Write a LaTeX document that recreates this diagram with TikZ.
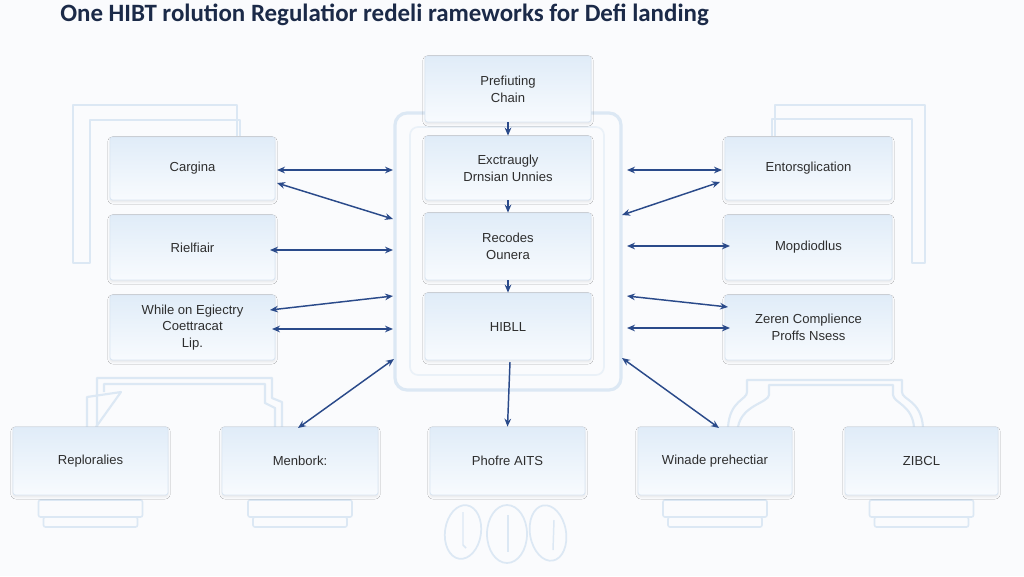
\documentclass[tikz,border=0pt]{standalone}
\usepackage{fontspec}
\setmainfont{Liberation Sans}
\newfontfamily\titlefont{Carlito}
\usetikzlibrary{arrows.meta,shadows.blur}
\definecolor{navy}{HTML}{2A4A8A}
\definecolor{titlec}{HTML}{1B2A48}
\definecolor{bg}{HTML}{FAFBFD}
\definecolor{boxline}{HTML}{DAE6F3}
\definecolor{boxtop}{HTML}{E0ECF8}
\definecolor{boxbot}{HTML}{F8FBFE}
\definecolor{frame}{HTML}{DCE8F4}
\definecolor{txt}{HTML}{2E2E2E}
\begin{document}
\begin{tikzpicture}[x=0.75pt,y=-0.75pt,
  wh/.style 2 args={minimum width={#1*0.75pt},minimum height={#2*0.75pt}},
  box/.style={draw=boxline,line width=0.6pt,rounded corners=2pt,top color=boxtop,bottom color=boxbot,
    text=txt,align=center,inner sep=0pt,font=\fontsize{9.8}{12.6}\selectfont,
    blur shadow={shadow blur steps=5,shadow blur radius=1.6pt,shadow xshift=0pt,shadow yshift=-1.4pt,shadow opacity=9}},
  conn/.style={navy,line width=1.1pt,>={Stealth[length=6pt,width=5pt]}},
  deco/.style={draw=frame,line width=1.6pt,line join=round},
  tray/.style={draw=frame,line width=1.2pt,fill=bg,rounded corners=1.5pt}]
\fill[bg] (0,0) rectangle (1024,576);
\useasboundingbox (0,0) rectangle (1024,576);
% title
\node[anchor=west,inner sep=0pt,text=titlec,font=\titlefont\bfseries\fontsize{18.7}{21}\selectfont] (title) at (60,15) {One HIBT rolution Regulatior redeli rameworks for Defi landing};
% background frames (left)
\draw[deco] (237,136) -- (237,105) -- (73,105) -- (73,263) -- (90,263) -- (90,120) -- (240,120) -- (240,136);
% background frames (right)
\draw[deco] (775,136) -- (775,105) -- (925,105) -- (925,263) -- (912,263) -- (912,119) -- (772,119) -- (772,136);
% bottom connecting frames
\draw[deco] (97,427) -- (97,378) -- (272,378) -- (272,398) -- (282,402) -- (282,427);
\draw[deco] (87,427) -- (87,397) -- (121,392) -- (96,427);
\draw[deco] (104,392) -- (104,384) -- (265,384) -- (265,403) -- (275,408) -- (275,427);
\draw[deco] (728,427) .. controls (730,400) and (747,400) .. (747,392) -- (747,380) -- (902,380) -- (902,392) .. controls (902,400) and (921,400) .. (923,427);
\draw[deco] (738,427) .. controls (742,405) and (768,403) .. (769,395) -- (769,385) -- (893,385) -- (893,395) .. controls (894,403) and (912,405) .. (914,427);
% central container
\draw[draw=frame,line width=2.4pt,fill=bg,rounded corners=9pt] (395,113) rectangle (621,390);
\draw[draw=frame!60,line width=1.2pt,rounded corners=6pt] (410,127) rectangle (604,375);
% trays under bottom boxes
\foreach \cx in {90.5,300,715,921.5}{
  \draw[tray] (\cx-47,517) rectangle (\cx+47,527);
  \draw[tray] (\cx-52,500) rectangle (\cx+52,517);
}
% ovals
\draw[deco,line width=1.3pt,rotate around={-8:(463,532)}] (463,532) ellipse [x radius=18,y radius=27];
\draw[deco,line width=1.3pt] (507,534) ellipse [x radius=20,y radius=29];
\draw[deco,line width=1.3pt,rotate around={10:(548,533)}] (548,533) ellipse [x radius=18,y radius=28];
\draw[deco,line width=1.1pt] (463,512) -- (463,545) -- (466,548);
\draw[deco,line width=1.1pt] (508,515) -- (508,552);
\draw[deco,line width=1.1pt] (554,520) -- (553,550);
% central column
\node[box,wh={166}{66}] (pc) at (508,89) {Prefiuting\\Chain};
\node[box,wh={166}{64}] (ex) at (508,168) {Exctraugly\\Drnsian Unnies};
\node[box,wh={166}{67}] (rc) at (508,246.5) {Recodes\\Ounera};
\node[box,wh={166}{67}] (hb) at (508,326.5) {HIBLL};
% left
\node[box,wh={165}{63}] (cg) at (192.5,168.5) {Cargina};
\node[box,wh={165}{65}] (rf) at (192.5,247.5) {Rielfiair};
\node[box,wh={165}{65}] (wh) at (192.5,327.5) {While on Egiectry\\Coettracat\\Lip.};
% right
\node[box,wh={167}{63}] (en) at (808.5,168.5) {Entorsglication};
\node[box,wh={167}{65}] (mo) at (808.5,247.5) {Mopdiodlus};
\node[box,wh={167}{65}] (ze) at (808.5,327.5) {Zeren Complience\\Proffs Nsess};
% bottom
\node[box,wh={155}{68}] (rp) at (90.5,461) {Reploralies};
\node[box,wh={156}{68}] (mb) at (300,461) {Menbork:};
\node[box,wh={155}{68}] (ph) at (507.5,461) {Phofre AITS};
\node[box,wh={154}{68}] (wn) at (715,461) {Winade prehectiar};
\node[box,wh={153}{68}] (zb) at (921.5,461) {ZIBCL};
% connector end coordinates
\coordinate (l1a) at (277,170); \coordinate (l1b) at (393,170);
\coordinate (l2a) at (277,183); \coordinate (l2b) at (393,219);
\coordinate (l3a) at (270,250); \coordinate (l3b) at (393,250);
\coordinate (l4a) at (270,310); \coordinate (l4b) at (393,296);
\coordinate (l5a) at (272,329); \coordinate (l5b) at (393,329);
\coordinate (l6a) at (298,428); \coordinate (l6b) at (394,359);
\coordinate (r1a) at (627,170); \coordinate (r1b) at (722,170);
\coordinate (r2a) at (622,215); \coordinate (r2b) at (720,182);
\coordinate (r3a) at (627,246); \coordinate (r3b) at (730,246);
\coordinate (r4a) at (627,296); \coordinate (r4b) at (728,307);
\coordinate (r5a) at (627,328); \coordinate (r5b) at (730,328);
\coordinate (r6a) at (622,358); \coordinate (r6b) at (719,428);
\coordinate (hbout) at (510,362);
% vertical arrows
\draw[conn,->] (pc.south) -- (ex.north);
\draw[conn,->] (ex.south) -- (rc.north);
\draw[conn,->] (rc.south) -- (hb.north);
\draw[conn,->] (hbout) -- (ph.north);
% side arrows
\foreach \a in {l1,l2,l3,l4,l5,l6,r1,r2,r3,r4,r5,r6}{
  \draw[conn,<->] (\a a) -- (\a b);
}
\end{tikzpicture}
\end{document}
